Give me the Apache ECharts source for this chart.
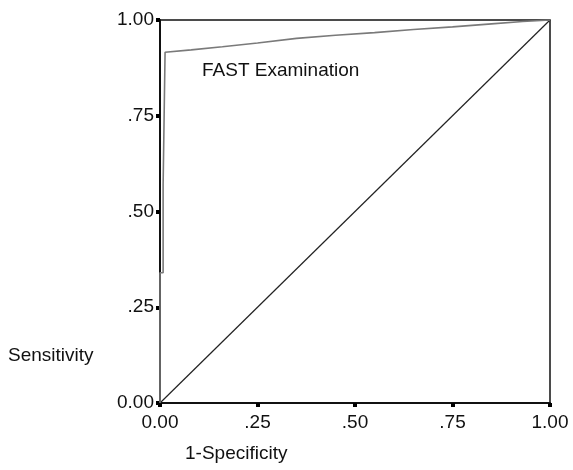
<!DOCTYPE html>
<html>
<head>
<meta charset="utf-8">
<script src="https://cdn.jsdelivr.net/npm/echarts@6/dist/echarts.min.js"></script>
<style>
  html, body { margin: 0; padding: 0; background: #fff; }
  #roc { width: 573px; height: 470px; }
</style>
</head>
<body>
<div id="roc"></div>
<script>
var chartDom = document.getElementById('roc');
var myChart = echarts.init(chartDom);
var option;

// tick labels for both axes
var tickValues = [0, 0.25, 0.5, 0.75, 1];
var tickLabels = ['0.00', '.25', '.50', '.75', '1.00'];

// ROC curve for the FAST examination: [1-specificity, sensitivity]
var fastCurve = [
  [0, 0], [0, 0.34], [0.008, 0.34], [0.008, 0.57], [0.013, 0.57],
  [0.013, 0.916], [0.08, 0.922], [0.16, 0.93], [0.25, 0.94],
  [0.35, 0.952], [0.45, 0.96], [0.55, 0.967], [0.65, 0.975],
  [0.75, 0.982], [0.85, 0.99], [0.93, 0.996], [1, 1]
];
// reference (chance) line
var diagonal = [[0, 0], [1, 1]];

var fontFam = '"Liberation Sans", Arial, sans-serif';

function fmtTick(v) {
  var i = tickValues.indexOf(Math.round(v * 100) / 100);
  return i >= 0 ? tickLabels[i] : '';
}

option = {
  animation: false,
  grid: {
    left: 160,
    right: 23,
    top: 20,
    bottom: 67,
    show: true,
    borderColor: '#111',
    borderWidth: 1.5
  },
  xAxis: {
    type: 'value',
    min: 0,
    max: 1,
    interval: 0.25,
    splitLine: { show: false },
    axisLine: { lineStyle: { color: '#111', width: 2 } },
    axisTick: { show: true, length: 4, lineStyle: { color: '#000', width: 4 } },
    axisLabel: {
      formatter: fmtTick,
      color: '#111',
      fontFamily: fontFam,
      fontSize: 19,
      margin: 10
    }
  },
  yAxis: {
    type: 'value',
    min: 0,
    max: 1,
    interval: 0.25,
    splitLine: { show: false },
    axisLine: { show: true, lineStyle: { color: '#111', width: 2 } },
    axisTick: { show: true, length: 4, lineStyle: { color: '#000', width: 4 } },
    axisLabel: {
      formatter: fmtTick,
      color: '#111',
      fontFamily: fontFam,
      fontSize: 19,
      margin: 6
    }
  },
  graphic: [
    {
      type: 'text', left: 8, top: 346,
      style: { text: 'Sensitivity', font: '19px ' + fontFam, fill: '#111' }
    },
    {
      type: 'text', left: 185, top: 444,
      style: { text: '1-Specificity', font: '19px ' + fontFam, fill: '#111' }
    },
    {
      type: 'text', left: 202, top: 61,
      style: { text: 'FAST Examination', font: '19px ' + fontFam, fill: '#111' }
    }
  ],
  series: [
    {
      name: 'Reference',
      type: 'line',
      data: diagonal,
      symbol: 'none',
      lineStyle: { color: '#222', width: 1.2 }
    },
    {
      name: 'FAST Examination',
      type: 'line',
      data: fastCurve,
      symbol: 'none',
      lineStyle: { color: '#7a7a7a', width: 1.6 }
    }
  ]
};

option && myChart.setOption(option);
</script>
</body>
</html>
